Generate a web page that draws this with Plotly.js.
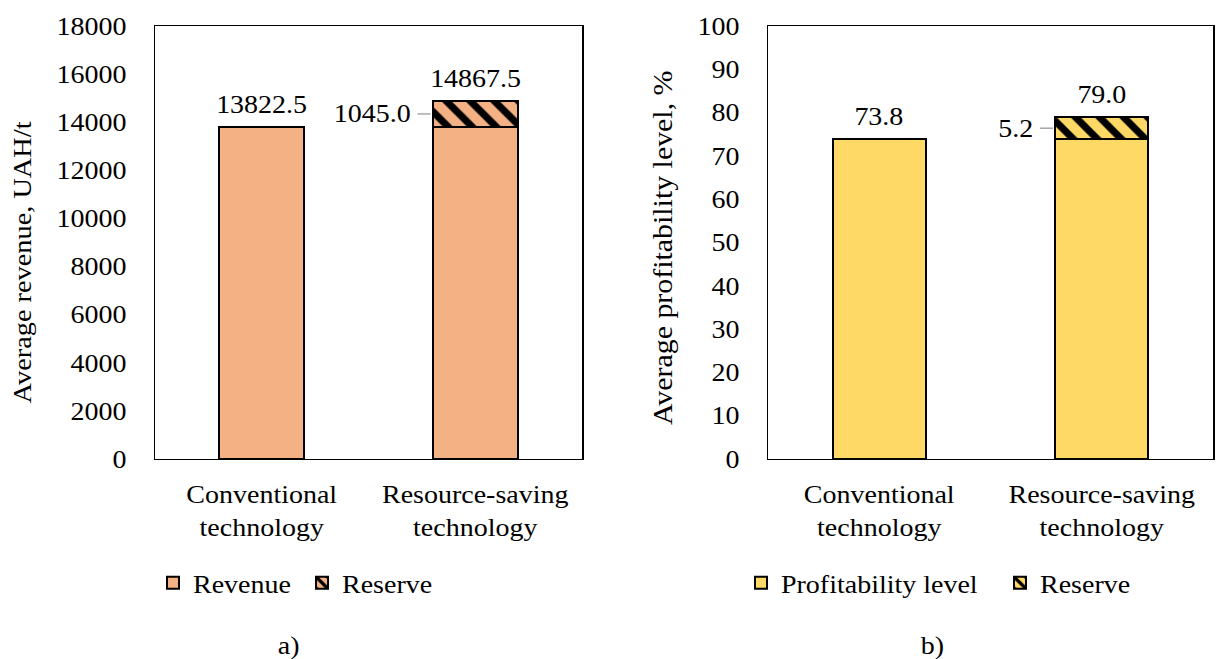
<!DOCTYPE html>
<html><head><meta charset="utf-8">
<script src="https://cdn.plot.ly/plotly-3.0.1.min.js"></script>
<style>html,body{margin:0;padding:0;background:#fff;overflow:hidden;width:1219px;height:659px}#chart{width:1219px;height:659px;overflow:hidden}</style>
</head><body><div id="chart"></div><script>
// ---- data ----
const categories = ['Conventional<br>technology', 'Resource-saving<br>technology'];
const revenue = [13822.5, 13822.5];
const revenueReserve = [null, 1045.0];
const profitability = [73.8, 73.8];
const profitabilityReserve = [null, 5.2];
const revenueTicks = [0, 2000, 4000, 6000, 8000, 10000, 12000, 14000, 16000, 18000];
const profitTicks = [0, 10, 20, 30, 40, 50, 60, 70, 80, 90, 100];
const seriesNames = ['Revenue', 'Reserve', 'Profitability level', 'Reserve'];
const axisTitles = ['Average revenue, UAH/t', 'Average profitability level, %'];
const captions = ['a)', 'b)'];

// ---- style ----
const FONT = 'Liberation Serif, Times New Roman, serif';
const FS = 25;
const STRETCH = 1.12;
const ORANGE = '#F4B183', YELLOW = '#FFD966';
const BW1 = 0.4, BW2 = 0.42;

function pat(bg) {
  return {shape: '\\', fgcolor: '#000000', bgcolor: bg, size: 17, solidity: 0.42};
}
const line = {color: '#000000', width: 2};

const data = [
  {type: 'bar', name: seriesNames[0], x: categories, y: revenue, width: BW1, xaxis: 'x', yaxis: 'y',
   marker: {color: ORANGE, line: line}, legend: 'legend'},
  {type: 'bar', name: seriesNames[1], x: categories, y: revenueReserve, width: BW1, xaxis: 'x', yaxis: 'y',
   marker: {color: ORANGE, line: line, pattern: pat(ORANGE)}, legend: 'legend2'},
  {type: 'bar', name: seriesNames[2], x: categories, y: profitability, width: BW2, xaxis: 'x2', yaxis: 'y2',
   marker: {color: YELLOW, line: line}, legend: 'legend3'},
  {type: 'bar', name: seriesNames[3], x: categories, y: profitabilityReserve, width: BW2, xaxis: 'x2', yaxis: 'y2',
   marker: {color: YELLOW, line: line, pattern: pat(YELLOW)}, legend: 'legend4'}
];

const tf = {family: FONT, size: FS, color: '#000'};
const axisCommon = {showline: true, mirror: true, linecolor: '#000', linewidth: 1.5, ticks: '',
  showgrid: false, zeroline: false, fixedrange: true, tickfont: tf, automargin: false};
const ydom = [0.3035, 0.9605];

const annotations = [];
const shapes = [];
function addLabels(base, reserve, xref, yref, bw) {
  for (let i = 0; i < categories.length; i++) {
    const r = reserve[i] || 0;
    const total = base[i] + r;
    annotations.push({xref: xref, yref: yref, x: i, y: total, text: total.toFixed(1),
      showarrow: false, yanchor: 'bottom', yshift: 7, font: tf});
    if (reserve[i]) {
      const yMid = base[i] + r / 2;
      annotations.push({xref: xref, yref: yref, x: i - bw / 2, y: yMid, text: r.toFixed(1),
        showarrow: false, xanchor: 'right', align: 'right', yanchor: 'middle', xshift: -20, font: tf});
      shapes.push({type: 'line', xref: xref, yref: yref, xsizemode: 'pixel', xanchor: i - bw / 2,
        x0: -15, x1: -2, y0: yMid, y1: yMid, line: {color: '#A6A6A6', width: 1.5}});
    }
  }
}
addLabels(revenue, revenueReserve, 'x', 'y', BW1);
addLabels(profitability, profitabilityReserve, 'x2', 'y2', BW2);

annotations.push({xref: 'paper', yref: 'paper', x: 22 / 1219, y: 0.602, text: axisTitles[0], textangle: -90,
  showarrow: false, xanchor: 'center', yanchor: 'middle', font: {family: FONT, size: 25.3, color: '#000'}});
annotations.push({xref: 'paper', yref: 'paper', x: 663 / 1219, y: 0.6235, text: axisTitles[1], textangle: -90,
  showarrow: false, xanchor: 'center', yanchor: 'middle', font: {family: FONT, size: 26.7, color: '#000'}});
annotations.push({xref: 'paper', yref: 'paper', x: 288 / 1219, y: 13 / 659, text: captions[0],
  showarrow: false, xanchor: 'center', yanchor: 'middle', font: tf});
annotations.push({xref: 'paper', yref: 'paper', x: 932 / 1219, y: 13 / 659, text: captions[1],
  showarrow: false, xanchor: 'center', yanchor: 'middle', font: tf});

function leg(px) {
  return {orientation: 'h', xanchor: 'left', yanchor: 'middle', y: 76 / 659, x: px / 1219,
    font: tf, bgcolor: 'rgba(0,0,0,0)', borderwidth: 0};
}

const layout = {
  width: 1219, height: 659, margin: {l: 0, r: 0, t: 0, b: 0},
  paper_bgcolor: '#ffffff', plot_bgcolor: '#ffffff', barmode: 'stack',
  font: tf, showlegend: true, hovermode: false,
  xaxis: Object.assign({}, axisCommon, {domain: [155 / 1219, 582 / 1219], anchor: 'y', type: 'category', ticklabelstandoff: 13}),
  yaxis: Object.assign({}, axisCommon, {domain: ydom, anchor: 'x', range: [0, 18000], tickvals: revenueTicks,
    ticktext: revenueTicks.map(String), ticklabelstandoff: 22}),
  xaxis2: Object.assign({}, axisCommon, {domain: [768 / 1219, 1213 / 1219], anchor: 'y2', type: 'category', ticklabelstandoff: 13}),
  yaxis2: Object.assign({}, axisCommon, {domain: ydom, anchor: 'x2', range: [0, 100], tickvals: profitTicks,
    ticktext: profitTicks.map(String), ticklabelstandoff: 22}),
  legend: leg(153),
  legend2: leg(302),
  legend3: leg(741),
  legend4: leg(1000),
  annotations: annotations,
  shapes: shapes
};

const gd = document.getElementById('chart');
Plotly.newPlot(gd, data, layout, {staticPlot: true, displayModeBar: false}).then(function () {
  // widen glyphs along the text direction (as in the reference typesetting),
  // keeping each text's anchor point fixed
  gd.querySelectorAll('svg text').forEach(function (t) {
    let bb;
    try { bb = t.getBBox(); } catch (e) { return; }
    if (!bb || !bb.width) return;
    const anchor = window.getComputedStyle(t).textAnchor || t.getAttribute('text-anchor') || 'start';
    const px = anchor === 'middle' ? bb.x + bb.width / 2 : (anchor === 'end' ? bb.x + bb.width : bb.x);
    const tr = t.getAttribute('transform') || '';
    t.setAttribute('transform', tr + ' translate(' + px + ',0) scale(' + STRETCH + ',1) translate(' + (-px) + ',0)');
  });
  // legend boxes were sized for the unwidened text; let the text show in full
  gd.querySelectorAll('.infolayer [class^="legend"] [clip-path], .infolayer [class^="legend"][clip-path]').forEach(function (el) {
    el.removeAttribute('clip-path');
  });
});
</script></body></html>
